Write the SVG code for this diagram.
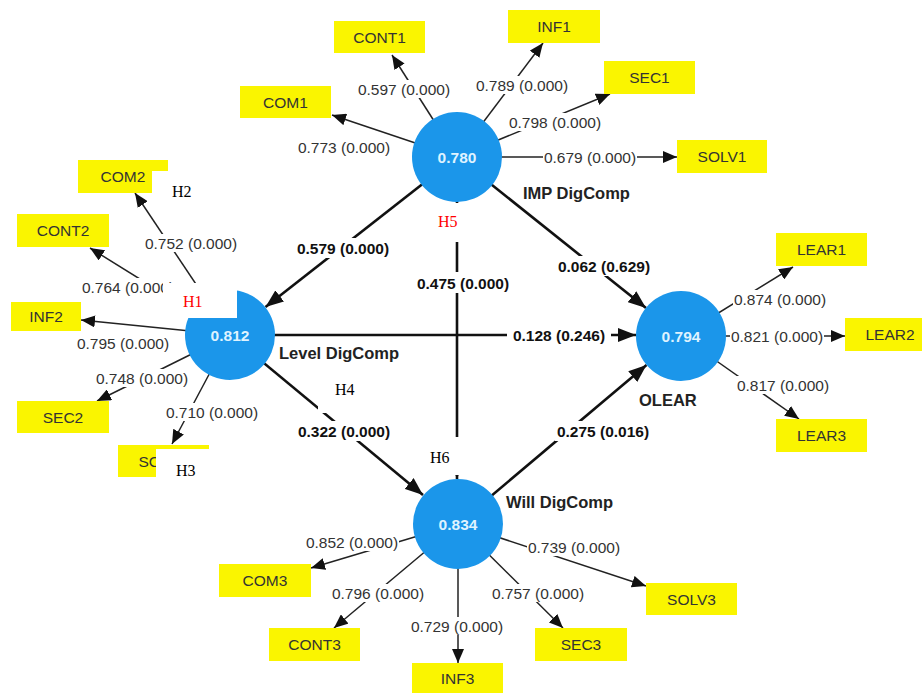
<svg xmlns="http://www.w3.org/2000/svg" width="922" height="693" viewBox="0 0 922 693">
<defs>
<marker id="ah" markerUnits="userSpaceOnUse" markerWidth="14" markerHeight="12" refX="14" refY="6" orient="auto"><path d="M0,0 L14,6 L0,12 z" fill="#111"/></marker>
<marker id="ahb" markerUnits="userSpaceOnUse" markerWidth="18" markerHeight="14" refX="18" refY="7" orient="auto"><path d="M0,0 L18,7 L0,14 z" fill="#111"/></marker>
<style>
.ld{stroke:#222;stroke-width:1.5;fill:none;marker-end:url(#ah)}
.st{stroke:#111;stroke-width:2.6;fill:none;marker-end:url(#ahb)}
.bg{fill:#fff}
.lbl{font-family:"Liberation Sans",Arial,sans-serif;font-size:15.5px;fill:#333;text-anchor:middle}
.blbl{font-family:"Liberation Sans",Arial,sans-serif;font-size:15.5px;font-weight:bold;fill:#111;text-anchor:middle}
.box{fill:#faf500}
.btx{font-family:"Liberation Sans",Arial,sans-serif;font-size:15.5px;fill:#333;text-anchor:middle}
.circ{fill:#1b96ea}
.ctx{font-family:"Liberation Sans",Arial,sans-serif;font-size:15.5px;font-weight:bold;fill:#dff3ff;text-anchor:middle}
.nn{font-family:"Liberation Sans",Arial,sans-serif;font-size:16.5px;font-weight:bold;fill:#222}
.mask{fill:#fff}
.h{font-family:"Liberation Serif","Times New Roman",serif;font-size:16px;fill:#000}
.hr{fill:#ff0000}
</style>
</defs>
<rect width="922" height="693" fill="#fff"/>

<g id="connectors">
  <line class="ld" x1="457" y1="157" x2="392" y2="55"/>
  <line class="ld" x1="457" y1="157" x2="543" y2="43"/>
  <line class="ld" x1="457" y1="157" x2="610" y2="94"/>
  <line class="ld" x1="457" y1="157" x2="332" y2="115"/>
  <line class="ld" x1="457" y1="157" x2="677" y2="157"/>
  <line class="ld" x1="230" y1="335" x2="135" y2="193"/>
  <line class="ld" x1="230" y1="335" x2="90" y2="248"/>
  <line class="ld" x1="230" y1="335" x2="81" y2="320"/>
  <line class="ld" x1="230" y1="335" x2="97" y2="401"/>
  <line class="ld" x1="230" y1="335" x2="172" y2="444"/>
  <line class="ld" x1="681" y1="336" x2="793" y2="267"/>
  <line class="ld" x1="681" y1="336" x2="845" y2="336"/>
  <line class="ld" x1="681" y1="336" x2="799" y2="419"/>
  <line class="ld" x1="458" y1="524" x2="311" y2="568"/>
  <line class="ld" x1="458" y1="524" x2="334" y2="628"/>
  <line class="ld" x1="458" y1="524" x2="458" y2="663"/>
  <line class="ld" x1="458" y1="524" x2="563" y2="628"/>
  <line class="ld" x1="458" y1="524" x2="646" y2="586"/>
  <line class="st" x1="457" y1="157" x2="265.5" y2="307"/>
  <line class="st" x1="457" y1="157" x2="646" y2="308"/>
  <line class="st" x1="230" y1="335" x2="636" y2="335"/>
  <line class="st" x1="230" y1="335" x2="423" y2="495"/>
  <line class="st" x1="457" y1="157" x2="457" y2="479"/>
  <line class="st" x1="458" y1="524" x2="646.5" y2="365"/>

  <g class="bg">
    <rect x="357" y="80" width="94" height="18"/>
    <rect x="475" y="76" width="94" height="18"/>
    <rect x="508" y="113" width="94" height="18"/>
    <rect x="297" y="138" width="94" height="18"/>
    <rect x="543" y="148" width="94" height="18"/>
    <rect x="144" y="234" width="94" height="18"/>
    <rect x="81" y="278" width="94" height="18"/>
    <rect x="76" y="334" width="94" height="18"/>
    <rect x="95" y="369" width="94" height="18"/>
    <rect x="165" y="403" width="94" height="18"/>
    <rect x="733" y="290" width="94" height="18"/>
    <rect x="730" y="327" width="94" height="18"/>
    <rect x="736" y="376" width="94" height="18"/>
    <rect x="305" y="533" width="94" height="18"/>
    <rect x="331" y="584" width="94" height="18"/>
    <rect x="410" y="617" width="94" height="18"/>
    <rect x="491" y="584" width="94" height="18"/>
    <rect x="527" y="538" width="94" height="18"/>
    <rect x="295" y="238" width="96" height="20"/>
    <rect x="556" y="256" width="96" height="20"/>
    <rect x="507" y="325" width="104" height="20"/>
    <rect x="296" y="421" width="96" height="20"/>
    <rect x="415" y="272" width="96" height="21"/>
    <rect x="555" y="421" width="96" height="20"/>
  </g>
  <text class="lbl" x="404" y="94.5">0.597 (0.000)</text>
  <text class="lbl" x="522" y="90.5">0.789 (0.000)</text>
  <text class="lbl" x="555" y="127.5">0.798 (0.000)</text>
  <text class="lbl" x="344" y="152.5">0.773 (0.000)</text>
  <text class="lbl" x="590" y="162.5">0.679 (0.000)</text>
  <text class="lbl" x="191" y="248.5">0.752 (0.000)</text>
  <text class="lbl" x="128" y="292.5">0.764 (0.000)</text>
  <text class="lbl" x="123" y="348.5">0.795 (0.000)</text>
  <text class="lbl" x="142" y="383.5">0.748 (0.000)</text>
  <text class="lbl" x="212" y="417.5">0.710 (0.000)</text>
  <text class="lbl" x="780" y="304.5">0.874 (0.000)</text>
  <text class="lbl" x="777" y="341.5">0.821 (0.000)</text>
  <text class="lbl" x="783" y="390.5">0.817 (0.000)</text>
  <text class="lbl" x="352" y="547.5">0.852 (0.000)</text>
  <text class="lbl" x="378" y="598.5">0.796 (0.000)</text>
  <text class="lbl" x="457" y="631.5">0.729 (0.000)</text>
  <text class="lbl" x="538" y="598.5">0.757 (0.000)</text>
  <text class="lbl" x="574" y="552.5">0.739 (0.000)</text>
  <text class="blbl" x="343" y="253.5">0.579 (0.000)</text>
  <text class="blbl" x="604" y="271.5">0.062 (0.629)</text>
  <text class="blbl" x="559" y="340.5">0.128 (0.246)</text>
  <text class="blbl" x="344" y="436.5">0.322 (0.000)</text>
  <text class="blbl" x="463" y="288.5">0.475 (0.000)</text>
  <text class="blbl" x="603" y="436.5">0.275 (0.016)</text>
</g>

<g id="IMP">
  <circle class="circ" cx="457" cy="157" r="45"/>
  <text class="ctx" x="457" y="162.5">0.780</text>
  <text class="nn" x="523" y="199">IMP DigComp</text>
</g>
<g id="Level">
  <circle class="circ" cx="230" cy="335" r="45"/>
  <text class="ctx" x="230" y="340.5">0.812</text>
  <text class="nn" x="279" y="359">Level DigComp</text>
</g>
<g id="OLEAR">
  <circle class="circ" cx="681" cy="336" r="45"/>
  <text class="ctx" x="681" y="341.5">0.794</text>
  <text class="nn" x="639" y="406">OLEAR</text>
</g>
<g id="Will">
  <circle class="circ" cx="458" cy="524" r="45"/>
  <text class="ctx" x="458" y="529.5">0.834</text>
  <text class="nn" x="506" y="508">Will DigComp</text>
</g>

<g id="CONT1"><rect class="box" x="334" y="21" width="91" height="32"/><text class="btx" x="379.5" y="42.5">CONT1</text></g>
<g id="INF1"><rect class="box" x="508" y="10" width="92" height="33"/><text class="btx" x="554" y="32">INF1</text></g>
<g id="SEC1"><rect class="box" x="604" y="61" width="91" height="33"/><text class="btx" x="649.5" y="83">SEC1</text></g>
<g id="COM1"><rect class="box" x="240" y="86" width="91" height="32"/><text class="btx" x="285.5" y="107.5">COM1</text></g>
<g id="SOLV1"><rect class="box" x="677" y="140" width="90" height="33"/><text class="btx" x="722" y="162">SOLV1</text></g>
<g id="COM2"><rect class="box" x="78" y="160" width="90" height="33"/><text class="btx" x="123" y="182">COM2</text></g>
<g id="CONT2"><rect class="box" x="17" y="214" width="92" height="33"/><text class="btx" x="63" y="236">CONT2</text></g>
<g id="INF2"><rect class="box" x="11" y="302" width="70" height="29"/><text class="btx" x="46" y="322">INF2</text></g>
<g id="SEC2"><rect class="box" x="17" y="401" width="92" height="32"/><text class="btx" x="63" y="422.5">SEC2</text></g>
<g id="SOLV2"><rect class="box" x="118" y="445" width="91" height="32"/><text class="btx" x="138.5" y="466.5" style="text-anchor:start">SO</text></g>
<g id="LEAR1"><rect class="box" x="776" y="233" width="91" height="33"/><text class="btx" x="821.5" y="255">LEAR1</text></g>
<g id="LEAR2"><rect class="box" x="845" y="318" width="90" height="33"/><text class="btx" x="890" y="340">LEAR2</text></g>
<g id="LEAR3"><rect class="box" x="776" y="419" width="91" height="33"/><text class="btx" x="821.5" y="441">LEAR3</text></g>
<g id="COM3"><rect class="box" x="219" y="564" width="92" height="33"/><text class="btx" x="265" y="586">COM3</text></g>
<g id="CONT3"><rect class="box" x="269" y="628" width="91" height="33"/><text class="btx" x="314.5" y="650">CONT3</text></g>
<g id="INF3"><rect class="box" x="412" y="663" width="91" height="30"/><text class="btx" x="457.5" y="684">INF3</text></g>
<g id="SEC3"><rect class="box" x="535" y="628" width="92" height="33"/><text class="btx" x="581" y="650">SEC3</text></g>
<g id="SOLV3"><rect class="box" x="646" y="583" width="91" height="32"/><text class="btx" x="691.5" y="604.5">SOLV3</text></g>

<g id="annotations">
  <rect class="mask" x="152" y="171" width="48" height="34"/>
  <rect class="mask" x="163" y="283" width="74" height="35"/>
  <rect class="mask" x="156" y="449" width="58" height="36"/>
  <rect class="mask" x="318" y="376" width="58" height="37"/>
  <rect class="mask" x="432" y="203" width="50" height="39"/>
  <rect class="mask" x="422" y="437" width="66" height="38"/>
  <text class="h" x="172" y="197">H2</text>
  <text class="h hr" x="183" y="307">H1</text>
  <text class="h" x="176" y="476">H3</text>
  <text class="h" x="335" y="395">H4</text>
  <text class="h hr" x="438" y="227">H5</text>
  <text class="h" x="430" y="463">H6</text>
</g>
</svg>
